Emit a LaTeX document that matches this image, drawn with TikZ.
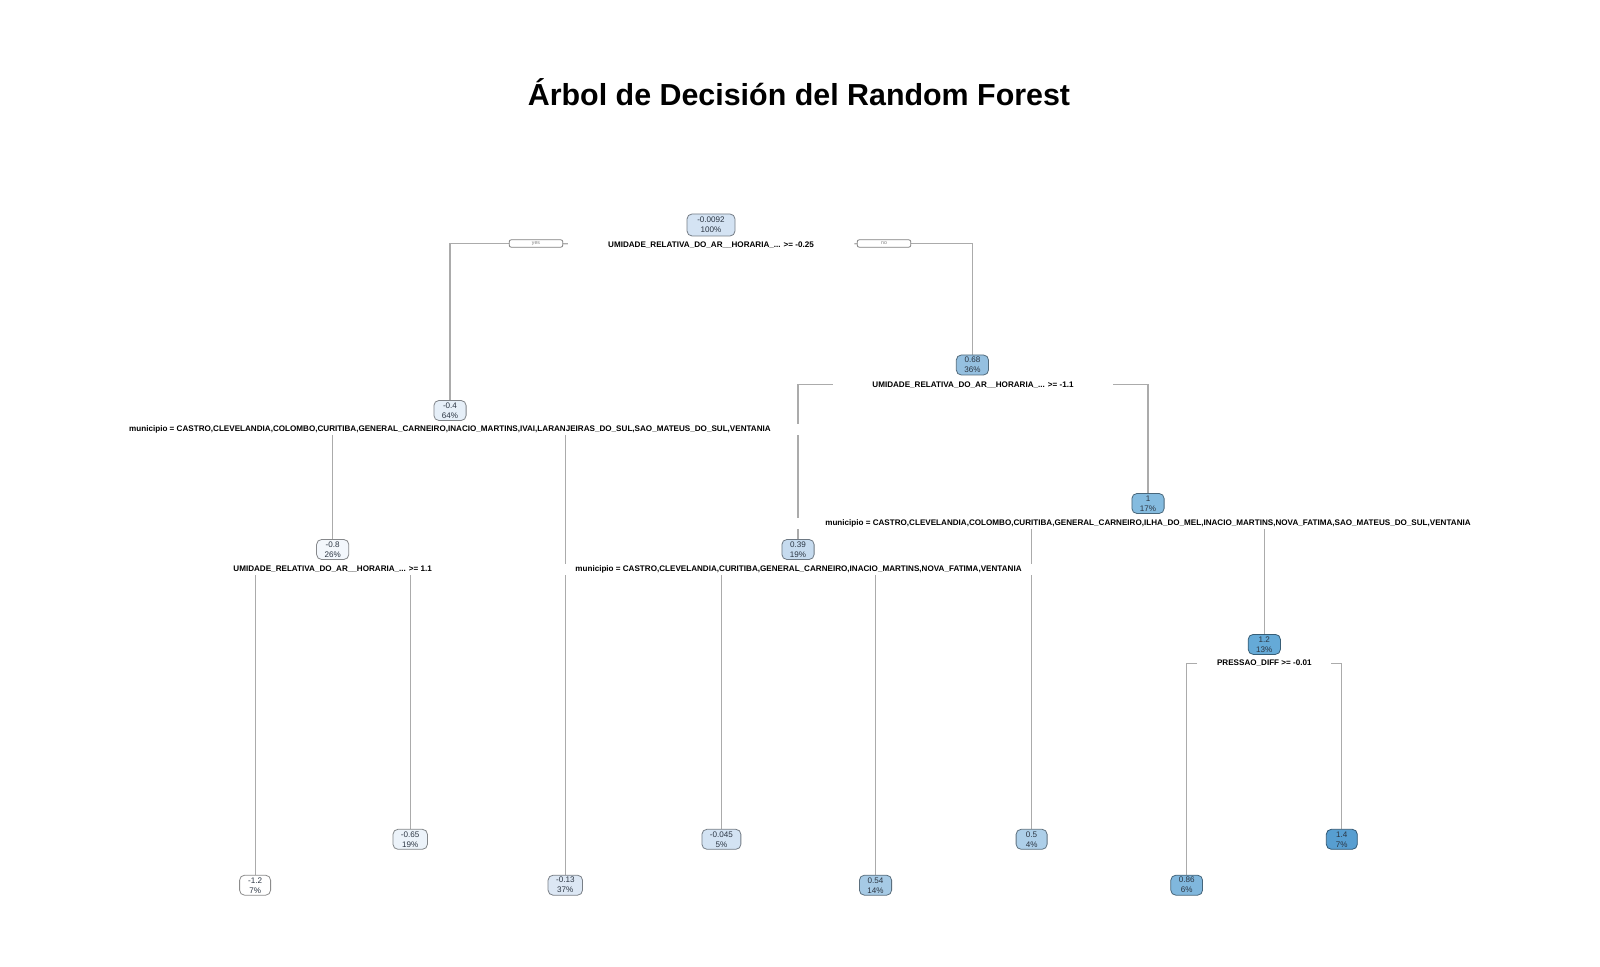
\documentclass[tikz,border=0pt]{standalone}
\usepackage{fontspec}
\setmainfont{Liberation Sans}
\usepackage{tikz}
\usetikzlibrary{backgrounds}

\definecolor{lineclr}{HTML}{ABABAB}
\definecolor{nodetext}{HTML}{2B3542}
\definecolor{cA}{HTML}{D4E3F3}
\definecolor{cB}{HTML}{E6EFF8}
\definecolor{cC}{HTML}{95C0E0}
\definecolor{cD}{HTML}{F3F7FC}
\definecolor{cE}{HTML}{C6DBEF}
\definecolor{cF}{HTML}{84BBDF}
\definecolor{cG}{HTML}{65AAD7}
\definecolor{cH}{HTML}{FFFFFF}
\definecolor{cI}{HTML}{ECF3FA}
\definecolor{cJ}{HTML}{DCE7F4}
\definecolor{cK}{HTML}{D3E3F3}
\definecolor{cL}{HTML}{A6CAE5}
\definecolor{cM}{HTML}{ADCFE9}
\definecolor{cN}{HTML}{80B7DD}
\definecolor{cO}{HTML}{579ED1}

\begin{document}
\begin{tikzpicture}[x=0.5pt, y=-0.5pt,
  box/.style={draw=#1!55!black, fill=#1, rounded corners=2.5pt, line width=0.4pt,
    align=center, inner xsep=4pt, inner ysep=0.8pt, minimum width=15.5pt,
    minimum height=10pt, text=nodetext, font=\fontsize{4.05}{5}\selectfont},
  split/.style={fill=white, inner xsep=#1, inner ysep=1pt,
    font=\bfseries\fontsize{4.05}{5}\selectfont},
  yn/.style={draw=gray, rounded corners=1pt, line width=0.4pt, minimum width=26.8pt,
    minimum height=3.7pt, inner sep=0pt, text=gray, font=\fontsize{2.6}{3}\selectfont},
  branch/.style={draw=lineclr, line width=0.6pt}]
				\useasboundingbox (0,0) rectangle (1600,967);
				
				\node[anchor=base, font=\bfseries\fontsize{15.2}{18}\selectfont] (title) at (799,106) {Árbol de Decisión del Random Forest};
				
				% split nodes
				\node[box=cA, minimum width=24pt, minimum height=11pt] (A) at (711,225) {-0.0092\\100\%};
				\node[split=20pt] (sA) at (711,245) {UMIDADE\_RELATIVA\_DO\_AR\_\_HORARIA\_... >= -0.25};
				\node[yn] (yes) at (536,243.5) {yes};
				\node[yn] (no) at (884,243.5) {no};
				
				\node[box=cB] (B) at (450,410.5) {-0.4\\64\%};
				\node[split=15pt] (sB) at (450,429.6) {municipio = CASTRO,CLEVELANDIA,COLOMBO,CURITIBA,GENERAL\_CARNEIRO,INACIO\_MARTINS,IVAI,LARANJEIRAS\_DO\_SUL,SAO\_MATEUS\_DO\_SUL,VENTANIA};
				
				\node[box=cC] (C) at (972.4,365) {0.68\\36\%};
				\node[split=19.5pt] (sC) at (973,384.7) {UMIDADE\_RELATIVA\_DO\_AR\_\_HORARIA\_... >= -1.1};
				
				\node[box=cD] (D) at (332.7,549.5) {-0.8\\26\%};
				\node[split=10pt] (sD) at (332.7,569.3) {UMIDADE\_RELATIVA\_DO\_AR\_\_HORARIA\_... >= 1.1};
				
				\node[box=cE] (E) at (798,549.5) {0.39\\19\%};
				\node[split=15pt] (sE) at (798.5,569.3) {municipio = CASTRO,CLEVELANDIA,CURITIBA,GENERAL\_CARNEIRO,INACIO\_MARTINS,NOVA\_FATIMA,VENTANIA};
				
				\node[box=cF] (F) at (1148,503.5) {1\\17\%};
				\node[split=15pt] (sF) at (1148,523.4) {municipio = CASTRO,CLEVELANDIA,COLOMBO,CURITIBA,GENERAL\_CARNEIRO,ILHA\_DO\_MEL,INACIO\_MARTINS,NOVA\_FATIMA,SAO\_MATEUS\_DO\_SUL,VENTANIA};
				
				\node[box=cG] (G) at (1264.3,644.4) {1.2\\13\%};
				\node[split=9.75pt] (sG) at (1264.3,663.2) {PRESSAO\_DIFF >= -0.01};
				
				% leaves
				\node[box=cH] (H) at (255.1,885.2) {-1.2\\7\%};
				\node[box=cI] (I) at (410.2,839.3) {-0.65\\19\%};
				\node[box=cJ] (J) at (565.3,885.2) {-0.13\\37\%};
				\node[box=cK] (K) at (721.4,839.3) {-0.045\\5\%};
				\node[box=cL] (L) at (875.5,885.2) {0.54\\14\%};
				\node[box=cM] (M) at (1031.6,839.3) {0.5\\4\%};
				\node[box=cN] (N) at (1186.7,885.2) {0.86\\6\%};
				\node[box=cO] (O) at (1341.8,839.3) {1.4\\7\%};
				
				\begin{scope}[on background layer]
				\fill[white] (0,0) rectangle (1600,967);
				\draw[branch] (yes) -| (B);
				\draw[branch] (yes) -- (sA);
				\draw[branch] (sA) -- (no);
				\draw[branch] (no) -| (C);
				\draw[branch] (sB -| D) -- (D);
				\draw[branch] (sB -| J) -- (J);
				\draw[branch] (sC) -| (E);
				\draw[branch] (sC) -| (F);
				\draw[branch] (sD -| H) -- (H);
				\draw[branch] (sD -| I) -- (I);
				\draw[branch] (sE -| K) -- (K);
				\draw[branch] (sE -| L) -- (L);
				\draw[branch] (sF -| M) -- (M);
				\draw[branch] (sF -| G) -- (G);
				\draw[branch] (sG) -| (N);
				\draw[branch] (sG) -| (O);
				\end{scope}
			\end{tikzpicture}
\end{document}
